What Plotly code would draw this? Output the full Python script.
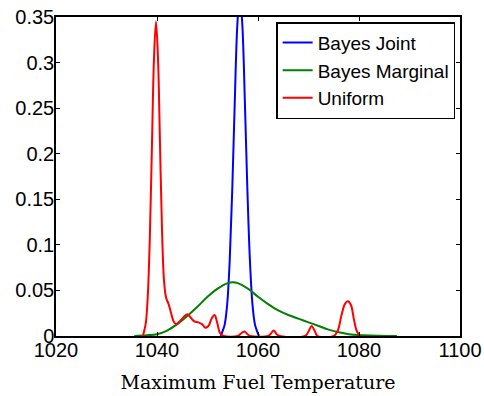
import plotly.graph_objects as go

# Bayes Joint
joint_x = [1052.6, 1052.9, 1053.4, 1053.9, 1054.4, 1054.9, 1055.4, 1055.9, 1056.4,
           1056.9, 1057.4, 1057.9, 1058.4, 1058.9, 1059.4, 1059.9, 1060.2]
joint_y = [0, 0.004, 0.0125, 0.035, 0.083, 0.16, 0.257, 0.341, 0.375,
           0.341, 0.257, 0.16, 0.083, 0.035, 0.0125, 0.004, 0]

# Bayes Marginal
marg_x = [1035.5, 1038, 1040, 1042, 1044, 1046, 1048, 1050, 1052, 1054, 1055, 1056,
          1058, 1060, 1062, 1064, 1066, 1068, 1070, 1072, 1074, 1076, 1078, 1080, 1084, 1087.5]
marg_y = [0, 0.0008, 0.002, 0.006, 0.013, 0.022, 0.032, 0.043, 0.052, 0.058, 0.059, 0.058,
          0.052, 0.043, 0.035, 0.028, 0.023, 0.019, 0.015, 0.011, 0.007, 0.004, 0.002, 0.001, 0.0003, 0]

# Uniform
unif_x = [1037.2, 1037.4, 1037.8, 1038.2, 1038.6, 1039.0, 1039.4, 1039.8, 1040.2, 1040.6,
          1041.0, 1041.4, 1041.8, 1042.3, 1042.8, 1043.3, 1043.8, 1044.5, 1045.3, 1046.0,
          1046.7, 1047.4, 1048.2, 1048.9, 1049.6, 1050.2, 1050.8, 1051.4, 1051.9, 1052.5,
          1053.2, 1056.0, 1056.7, 1057.3, 1057.9, 1058.5, 1062.0, 1062.6, 1063.1, 1063.7,
          1064.3, 1069.3, 1070.0, 1070.6, 1071.2, 1071.8, 1075.0, 1075.8, 1076.5, 1077.2,
          1077.8, 1078.4, 1079.0, 1079.6, 1080.3]
unif_y = [0, 0.004, 0.015, 0.047, 0.112, 0.209, 0.304, 0.345, 0.304, 0.209,
          0.115, 0.06, 0.042, 0.035, 0.025, 0.016, 0.013, 0.016, 0.021, 0.024,
          0.02, 0.016, 0.015, 0.013, 0.009, 0.011, 0.019, 0.023, 0.015, 0.003,
          0, 0, 0.003, 0.005, 0.002, 0, 0, 0.003, 0.006, 0.002,
          0, 0, 0.005, 0.011, 0.006, 0, 0, 0.006, 0.022, 0.035,
          0.038, 0.034, 0.018, 0.005, 0]

x_ticks = [1020, 1040, 1060, 1080, 1100]
y_ticks = [0, 0.05, 0.1, 0.15, 0.2, 0.25, 0.3, 0.35]
y_labels = ["0", "0.05", "0.1", "0.15", "0.2", "0.25", "0.3", "0.35"]

fig = go.Figure()
fig.add_trace(go.Scatter(x=joint_x, y=joint_y, mode="lines", name="Bayes Joint",
                         line=dict(color="#0000ff", width=2, shape="spline")))
fig.add_trace(go.Scatter(x=marg_x, y=marg_y, mode="lines", name="Bayes Marginal",
                         line=dict(color="#008000", width=2, shape="spline")))
fig.add_trace(go.Scatter(x=unif_x, y=unif_y, mode="lines", name="Uniform",
                         line=dict(color="#ff0000", width=2, shape="spline")))

fig.update_layout(
    width=484, height=396,
    margin=dict(l=56, r=24, t=17, b=60, autoexpand=False),
    plot_bgcolor="white", paper_bgcolor="white",
    font=dict(family="Liberation Sans, Arial, sans-serif", size=20, color="black"),
    legend=dict(x=0.988, y=0.984, xanchor="right", yanchor="top",
                bgcolor="white", bordercolor="black", borderwidth=1.5,
                font=dict(size=19), itemwidth=30, tracegroupgap=0),
)
fig.update_xaxes(range=[1020, 1100], tickvals=x_ticks, showline=True, linecolor="black",
                 linewidth=1.5, mirror="ticks", ticks="inside", ticklen=4, tickcolor="black",
                 showgrid=False, zeroline=False, ticklabelstandoff=-5, automargin=False,
                 title=dict(text="Maximum Fuel Temperature",
                            font=dict(family="DejaVu Serif, Liberation Serif, serif", size=19),
                            standoff=16))
fig.update_yaxes(range=[0, 0.35], tickvals=y_ticks, ticktext=y_labels, showline=True,
                 linecolor="black", linewidth=1.5, mirror="ticks", ticks="inside", ticklen=4,
                 tickcolor="black", showgrid=False, zeroline=False, ticklabelstandoff=-4,
                 automargin=False)

fig.write_html("out.html")
